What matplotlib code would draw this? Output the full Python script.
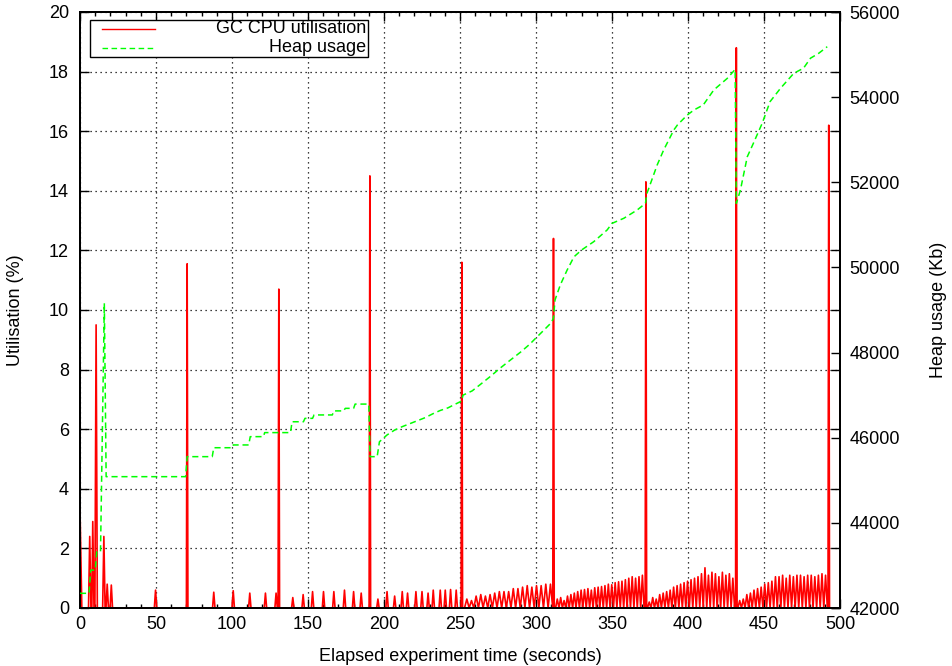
import numpy as np
import matplotlib
matplotlib.use("Agg")
import matplotlib.pyplot as plt
from matplotlib.lines import Line2D
from matplotlib.patches import Rectangle
from matplotlib.ticker import MultipleLocator

plt.rcParams['font.family'] = ['Liberation Sans', 'DejaVu Sans']
plt.rcParams['font.size'] = 13

# ---- GC CPU utilisation (%) ----
# start-up phase samples (time s, utilisation %)
startup_t = [0.0, 1.2, 5.6, 6.4, 7.2, 7.8, 8.4, 9.2, 9.8, 10.6, 11.4,
             14.9, 15.7, 16.5]
startup_util = [3.3, 0.0, 0.0, 2.4, 0.0, 0.0, 2.9, 0.0, 0.0, 9.5, 0.0,
                0.0, 2.4, 0.0]

# full collections
major_t = [70.5, 130.8, 190.7, 251.2, 311.5, 372.3, 431.8, 492.6]
major_util = [11.55, 10.7, 14.5, 11.6, 12.4, 14.3, 18.8, 16.2]

# scattered minor collections
minor_t = [17.9, 20.6, 49.7, 88.0, 100.8, 111.7, 122.0, 129.0, 140.0,
           146.8, 153.0, 160.2, 167.0, 174.0, 180.0, 185.0, 196.0, 202.0,
           207.0, 212.0, 215.5, 221.0, 225.0, 229.0, 232.4, 237.0, 240.3,
           243.8, 247.5]
minor_util = [0.8, 0.77, 0.6, 0.53, 0.58, 0.5, 0.5, 0.5, 0.35,
              0.45, 0.55, 0.55, 0.55, 0.6, 0.55, 0.5, 0.3, 0.55,
              0.4, 0.55, 0.5, 0.55, 0.55, 0.5, 0.6, 0.6, 0.6,
              0.62, 0.6]

# regular minor collections between full collections
saw1_span = (254.5, 309.5)
saw1_util = [0.3, 0.25, 0.4, 0.45, 0.4, 0.45, 0.5, 0.55, 0.55, 0.55,
             0.65, 0.65, 0.7, 0.75, 0.7, 0.75, 0.75, 0.8, 0.8]
saw2_span = (314.0, 370.0)
saw2_util = [0.3, 0.35, 0.25, 0.4, 0.45, 0.5, 0.55, 0.6, 0.62, 0.65,
             0.6, 0.68, 0.7, 0.72, 0.75, 0.8, 0.78, 0.85, 0.88, 0.9,
             0.95, 1.0, 1.05, 1.0, 1.05, 1.1]
saw3_span = (374.5, 429.5)
saw3_util = [0.2, 0.35, 0.3, 0.45, 0.5, 0.55, 0.6, 0.7, 0.75, 0.8,
             0.85, 0.9, 0.95, 1.0, 1.05, 1.15, 1.35, 1.1, 1.2, 1.15,
             1.05, 1.2, 1.1, 1.15, 1.0]
saw4_span = (434.0, 490.5)
saw4_util = [0.25, 0.3, 0.45, 0.5, 0.6, 0.65, 0.7, 0.8, 0.85, 0.9,
             1.05, 1.05, 1.1, 1.0, 1.1, 1.05, 1.1, 1.1, 1.05, 1.1,
             1.1, 1.05, 1.1, 1.15, 1.1]

# ---- Heap usage (Kb) ----
heap_t = [0, 6, 7, 10, 11, 13.5, 16, 17.2, 69.5, 70.5, 87, 88, 100, 100.8,
          111, 112, 120.7, 121.5, 138.5, 139.5, 147, 148, 153, 154, 166,
          167, 173.5, 174.5, 180, 181, 190, 190.8, 195.5, 197, 202, 207,
          212, 217, 222, 227, 232, 237, 242, 247, 251, 252, 258, 263, 270,
          276.6, 283, 290, 296, 300, 305, 310, 311.5, 312.5, 316, 320.5,
          325, 330, 338, 346.8, 350, 357.8, 366.6, 372, 373, 379.7, 384,
          390.7, 393, 399.5, 404, 410, 417, 425.8, 431, 431.8, 434.5, 439,
          443, 448.8, 454, 460.9, 469.6, 476, 480.6, 486, 491.6]
heap_kb = [42345, 42345, 42890, 42890, 43320, 43320, 49160, 45085, 45085,
           45555, 45555, 45765, 45765, 45830, 45830, 46025, 46025, 46120,
           46120, 46375, 46375, 46455, 46455, 46535, 46535, 46630, 46630,
           46690, 46690, 46790, 46790, 45555, 45555, 45905, 46065, 46180,
           46260, 46330, 46400, 46470, 46560, 46640, 46700, 46790, 46860,
           47000, 47100, 47240, 47440, 47640, 47820, 48015, 48200, 48345,
           48520, 48700, 48810, 49235, 49590, 49940, 50250, 50410, 50605,
           50880, 51035, 51155, 51350, 51505, 51740, 52405, 52760, 53230,
           53345, 53580, 53700, 53815, 54170, 54440, 54650, 51505, 51820,
           52600, 52915, 53385, 53895, 54210, 54560, 54680, 54915, 55030,
           55185]


def add_peaks(ts, vs, times, values, half_width):
    for t, v in zip(times, values):
        ts += [t - half_width, t, t + half_width]
        vs += [0.0, v, 0.0]


pts_t = list(startup_t)
pts_v = list(startup_util)
add_peaks(pts_t, pts_v, major_t, major_util, 0.5)
add_peaks(pts_t, pts_v, minor_t, minor_util, 0.8)
for span, vals in [(saw1_span, saw1_util), (saw2_span, saw2_util),
                   (saw3_span, saw3_util), (saw4_span, saw4_util)]:
    times = np.linspace(span[0], span[1], len(vals))
    hw = (span[1] - span[0]) / (len(vals) - 1) / 2.0
    add_peaks(pts_t, pts_v, times, vals, hw)

order = np.argsort(pts_t, kind='stable')
util_t = np.asarray(pts_t)[order]
util_v = np.asarray(pts_v)[order]

fig = plt.figure(figsize=(9.52, 6.66), dpi=100)
ax = fig.add_axes([80 / 952, 58 / 666, 760 / 952, 596 / 666])
ax2 = ax.twinx()

ax.plot(util_t, util_v, color='#ff0000', lw=1.2, zorder=3)
ax2.plot(heap_t, heap_kb, color='#00ff00', lw=1.1, linestyle=(0, (4, 2.5)),
         zorder=3)

ax.set_xlim(0, 500)
ax.set_ylim(0, 20)
ax2.set_ylim(42000, 56000)

ax.xaxis.set_major_locator(MultipleLocator(50))
ax.xaxis.set_minor_locator(MultipleLocator(10))
ax.yaxis.set_major_locator(MultipleLocator(2))
ax2.yaxis.set_major_locator(MultipleLocator(2000))

ax.tick_params(which='major', direction='in', length=6.5, width=1.0,
               top=True, right=True, labelsize=13, pad=6)
ax.tick_params(axis='y', which='major', pad=8)
ax.tick_params(which='minor', direction='in', length=3, width=1.0,
               top=True, bottom=True)
ax2.tick_params(direction='in', length=6.5, width=1.0, labelsize=13, pad=7)

ax.grid(True, which='major', color='black', linestyle=(0, (1, 3)),
        linewidth=0.9)
ax.set_axisbelow(True)

for a in (ax, ax2):
    for s in a.spines.values():
        s.set_linewidth(1.4)

ax.set_xlabel('Elapsed experiment time (seconds)', fontsize=13)
ax.xaxis.set_label_coords(0.5, -0.082)
ax.xaxis.label.set_va('center')
ax.set_ylabel('Utilisation (%)', fontsize=13)
ax.yaxis.set_label_coords(-0.0855, 0.5)
ax.yaxis.label.set_va('center')
ax2.set_ylabel('Heap usage (Kb)', fontsize=13, rotation=90)
ax2.yaxis.set_label_coords(1.13, 0.5)
ax2.yaxis.label.set_va('center')

# key box
tr = ax2.transAxes
ax2.add_patch(Rectangle((0.0132, 0.9245), 0.3658, 0.0621, transform=tr,
                        facecolor='white', edgecolor='black', lw=1.0,
                        zorder=10))
ax2.add_line(Line2D([0.029, 0.0987], [0.9715, 0.9715], transform=tr,
                    color='#ff0000', lw=1.0, zorder=11))
ax2.add_line(Line2D([0.029, 0.0987], [0.940, 0.940], transform=tr,
                    color='#00ff00', lw=1.0, linestyle=(0, (4, 2.5)),
                    zorder=11))
ax2.text(0.376, 0.9715, 'GC CPU utilisation', transform=tr, ha='right',
         va='center', fontsize=13, zorder=12)
ax2.text(0.376, 0.940, 'Heap usage', transform=tr, ha='right',
         va='center', fontsize=13, zorder=12)

fig.savefig('out.png', dpi=100)
